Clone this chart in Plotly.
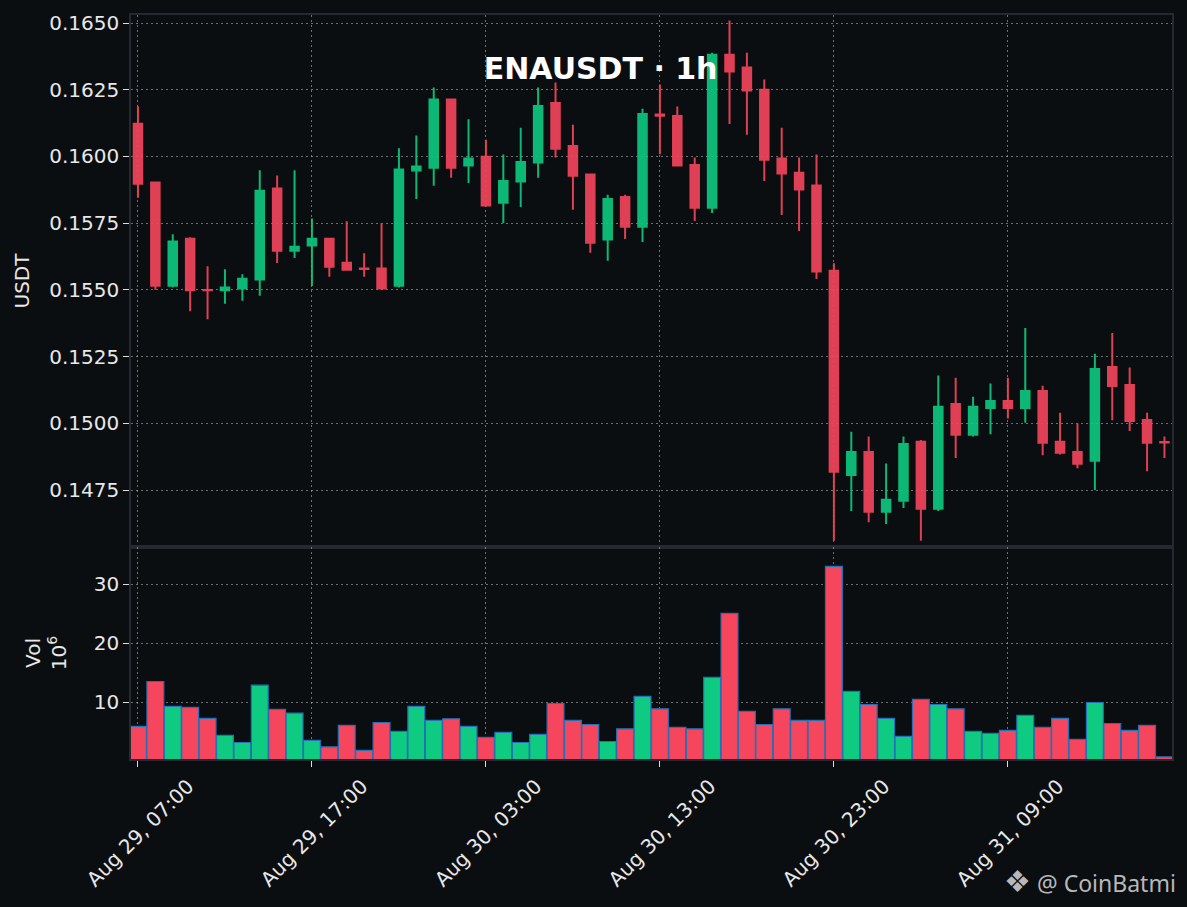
import pandas as pd
import plotly.graph_objects as go
from plotly.subplots import make_subplots

# ENAUSDT hourly candles, Aug 29 07:00 -> Aug 31 18:00
times = pd.date_range("2025-08-29 07:00", periods=60, freq="h")

opens = [0.16123, 0.15902, 0.15516, 0.15692, 0.15500, 0.15499, 0.15505, 0.15539, 0.15880, 0.15647,
         0.15666, 0.15692, 0.15602, 0.15580, 0.15580, 0.15516, 0.15947, 0.15958, 0.16213, 0.15966,
         0.15999, 0.15827, 0.15906, 0.15977, 0.16200, 0.16039, 0.15932, 0.15689, 0.15848, 0.15737,
         0.16157, 0.16152, 0.15968, 0.15808, 0.16381, 0.16333, 0.16250, 0.15992, 0.15939, 0.15891,
         0.15572, 0.14807, 0.14893, 0.14669, 0.14710, 0.14931, 0.14680, 0.15073, 0.14957, 0.15058,
         0.15084, 0.15058, 0.15121, 0.14931, 0.14893, 0.14860, 0.15211, 0.15144, 0.15013, 0.14930]
highs = [0.16188, 0.15906, 0.15709, 0.15697, 0.15589, 0.15577, 0.15559, 0.15948, 0.15929, 0.15948,
         0.15768, 0.15692, 0.15757, 0.15637, 0.15750, 0.16031, 0.16079, 0.16258, 0.16213, 0.16139,
         0.16063, 0.16007, 0.16108, 0.16258, 0.16277, 0.16119, 0.15936, 0.15857, 0.15857, 0.16179,
         0.16270, 0.16187, 0.15996, 0.16389, 0.16509, 0.16389, 0.16288, 0.16108, 0.15996, 0.16007,
         0.15600, 0.14969, 0.14951, 0.14850, 0.14951, 0.14938, 0.15179, 0.15171, 0.15100, 0.15149,
         0.15171, 0.15357, 0.15141, 0.15040, 0.15000, 0.15261, 0.15339, 0.15209, 0.15040, 0.14951]
lows = [0.15845, 0.15501, 0.15509, 0.15420, 0.15390, 0.15448, 0.15459, 0.15478, 0.15601, 0.15620,
        0.15515, 0.15549, 0.15572, 0.15549, 0.15501, 0.15509, 0.15841, 0.15890, 0.15920, 0.15901,
        0.15812, 0.15751, 0.15811, 0.15920, 0.15996, 0.15800, 0.15639, 0.15609, 0.15691, 0.15680,
        0.16008, 0.15964, 0.15758, 0.15788, 0.16122, 0.16081, 0.15908, 0.15781, 0.15721, 0.15541,
        0.14560, 0.14672, 0.14630, 0.14623, 0.14683, 0.14560, 0.14672, 0.14870, 0.14951, 0.14959,
        0.15018, 0.15002, 0.14881, 0.14883, 0.14832, 0.14750, 0.15012, 0.14971, 0.14821, 0.14870]
closes = [0.15898, 0.15516, 0.15681, 0.15499, 0.15499, 0.15509, 0.15542, 0.15872, 0.15647, 0.15662,
          0.15692, 0.15587, 0.15576, 0.15578, 0.15505, 0.15951, 0.15962, 0.16213, 0.15958, 0.15992,
          0.15816, 0.15908, 0.15979, 0.16189, 0.16029, 0.15928, 0.15677, 0.15841, 0.15737, 0.16159,
          0.16153, 0.15966, 0.15808, 0.16381, 0.16318, 0.16247, 0.15988, 0.15936, 0.15876, 0.15569,
          0.14819, 0.14893, 0.14669, 0.14714, 0.14923, 0.14680, 0.15062, 0.14957, 0.15062, 0.15084,
          0.15058, 0.15121, 0.14927, 0.14890, 0.14849, 0.15204, 0.15140, 0.15009, 0.14927, 0.14928]

# volume in millions
volumes = [5.88, 13.5, 9.27, 9.10, 7.23, 4.35, 3.16, 12.88, 8.76, 8.14,
           3.50, 2.43, 6.05, 1.81, 6.55, 5.03, 9.27, 6.89, 7.18, 5.88,
           4.01, 4.86, 3.16, 4.52, 9.77, 6.89, 6.21, 3.33, 5.48, 10.96,
           8.87, 5.71, 5.48, 14.18, 25.03, 8.42, 6.21, 8.87, 6.89, 6.89,
           33.0, 11.81, 9.60, 7.23, 4.18, 10.45, 9.60, 8.87, 5.03, 4.69,
           5.20, 7.74, 5.71, 7.23, 3.67, 9.94, 6.38, 5.20, 6.05, 0.73]

UP = "#0ecb81"
DOWN = "#f6465d"
BG = "#0b0e11"
GRID = "rgba(190,190,190,0.55)"
GRID_DASH = "2px,3px"
FRAME = "#262a30"
FONT = "DejaVu Sans"

vol_colors = [UP if c >= o else DOWN for o, c in zip(opens, closes)]

fig = make_subplots(rows=2, cols=1, shared_xaxes=True,
                    vertical_spacing=0, row_heights=[0.715, 0.285])

fig.add_trace(go.Candlestick(
    x=times, open=opens, high=highs, low=lows, close=closes,
    increasing=dict(line=dict(color=UP, width=2), fillcolor=UP),
    decreasing=dict(line=dict(color=DOWN, width=2), fillcolor=DOWN),
    opacity=0.9, showlegend=False, name="ENAUSDT"), row=1, col=1)

fig.add_trace(go.Bar(
    x=times, y=volumes,
    marker=dict(color=vol_colors, line=dict(color="#2371b8", width=1.2)),
    showlegend=False, name="Vol"), row=2, col=1)

x_range = [pd.Timestamp("2025-08-29 06:36"), pd.Timestamp("2025-08-31 18:26")]
tick_style = dict(tickfont=dict(size=20, color="#e8e8e8", family=FONT))
title_font = dict(size=20, color="#e8e8e8", family=FONT)

fig.update_xaxes(
    range=x_range, tick0="2025-08-29 07:00", dtick=10 * 3600 * 1000,
    showgrid=True, gridcolor=GRID, griddash=GRID_DASH, gridwidth=1,
    showline=True, linecolor=FRAME, linewidth=1.5, mirror=True,
    zeroline=False, rangeslider_visible=False)
fig.update_xaxes(showticklabels=False, ticks="", row=1, col=1)
# labels centred under their tick, like the original
fig.update_xaxes(tickformat="%b %d, %H:%M", tickangle=-45, ticks="outside",
                 ticklen=6, tickcolor="#dddddd", ticklabelshift=50,
                 **tick_style, row=2, col=1)

fig.update_yaxes(
    showgrid=True, gridcolor=GRID, griddash=GRID_DASH, gridwidth=1,
    showline=True, linecolor=FRAME, linewidth=1.5, mirror=True,
    zeroline=False, ticks="outside", ticklen=6, tickcolor="#dddddd", **tick_style)
fig.update_yaxes(range=[0.14537, 0.16530], dtick=0.0025, tickformat=".4f",
                 title=dict(text="USDT", font=title_font, standoff=14),
                 row=1, col=1)
fig.update_yaxes(range=[0.36, 36.3], tickvals=[10, 20, 30],
                 title=dict(text="Vol<br>10<sup>6</sup>", font=title_font, standoff=22),
                 row=2, col=1)

fig.update_layout(
    width=1187, height=907,
    paper_bgcolor=BG, plot_bgcolor=BG,
    margin=dict(l=131, r=15, t=15, b=148),
    bargap=0.03,
    font=dict(family=FONT, color="#e8e8e8"),
    title=dict(text="<b>ENAUSDT · 1h</b>", x=0.506, xanchor="center",
               y=0.925, yanchor="middle",
               font=dict(size=30, color="white", family=FONT)),
    showlegend=False,
)

# watermark
fig.add_annotation(text="<span style='font-size:30px'>❖</span> @ CoinBatmi",
                   xref="paper", yref="paper",
                   x=1.006, y=-0.163, xanchor="right", yanchor="middle",
                   showarrow=False,
                   font=dict(size=23, color="#b8b8b8", family="Noto Sans"))

fig.write_html("out.html", config={"displayModeBar": False},
               post_script="document.body.style.margin='0';document.body.style.background='#0b0e11';")
